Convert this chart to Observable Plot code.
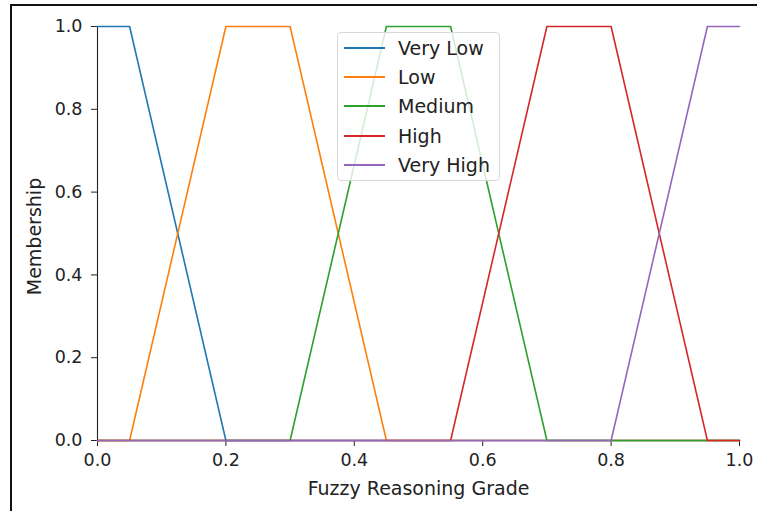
<!DOCTYPE html>
<html><head><meta charset="utf-8">
<script src="https://cdn.jsdelivr.net/npm/d3@7"></script>
<script src="https://cdn.jsdelivr.net/npm/@observablehq/plot@0.6"></script>
<style>
body{margin:0;background:#fff;font-family:"DejaVu Sans",sans-serif;}
#wrap{position:relative;width:757px;height:511px;overflow:hidden;}
#frame{position:absolute;left:10px;top:4px;width:800px;height:600px;border-left:2px solid #111;border-top:2px solid #111;pointer-events:none;}
#legend{position:absolute;left:337px;top:32px;width:163px;height:149px;box-sizing:border-box;border:1px solid #d9d9d9;border-radius:4px;background:rgba(255,255,255,0.8);font-size:19px;color:#222;}
.row{position:absolute;left:6px;height:24px;display:flex;align-items:center;white-space:nowrap;}
.sw{width:41px;height:2px;margin-right:13px;}
</style></head>
<body><div id="wrap"><div id="chart"></div><div id="legend"></div><div id="frame"></div></div>
<script>
const seriesNames = ["Very Low", "Low", "Medium", "High", "Very High"];
const seriesColors = ["#1f77b4", "#ff7f0e", "#2ca02c", "#d62728", "#9467bd"];
const veryLowX = [0, 0.05, 0.2, 1];
const veryLowY = [1, 1, 0, 0];
const lowX = [0, 0.05, 0.2, 0.3, 0.45, 1];
const lowY = [0, 0, 1, 1, 0, 0];
const mediumX = [0, 0.3, 0.45, 0.55, 0.7, 1];
const mediumY = [0, 0, 1, 1, 0, 0];
const highX = [0, 0.55, 0.7, 0.8, 0.95, 1];
const highY = [0, 0, 1, 1, 0, 0];
const veryHighX = [0, 0.8, 0.95, 1];
const veryHighY = [0, 0, 1, 1];
const xTicks = [0, 0.2, 0.4, 0.6, 0.8, 1.0];
const yTicks = [0, 0.2, 0.4, 0.6, 0.8, 1.0];

const allX = [veryLowX, lowX, mediumX, highX, veryHighX];
const allY = [veryLowY, lowY, mediumY, highY, veryHighY];
const data = [];
allX.forEach((xs, i) => xs.forEach((x, j) => data.push({name: seriesNames[i], x, y: allY[i][j]})));

const chart = Plot.plot({
  width: 757, height: 511,
  marginLeft: 97, marginRight: 18, marginTop: 26, marginBottom: 71,
  style: {fontFamily: "DejaVu Sans, sans-serif", fontSize: "17.5px", color: "#222", background: "transparent"},
  x: {domain: [0, 1], ticks: xTicks, tickFormat: d3.format(".1f"), tickSize: 6, tickPadding: 7, label: null},
  y: {domain: [0, 1], ticks: yTicks, tickFormat: d3.format(".1f"), tickSize: 6, tickPadding: 9, label: null},
  color: {domain: seriesNames, range: seriesColors},
  marks: [
    Plot.ruleX([0], {stroke: "#222", strokeWidth: 1.1}),
    Plot.ruleY([0], {stroke: "#222", strokeWidth: 1.1}),
    Plot.line(data, {x: "x", y: "y", z: "name", stroke: "name", strokeWidth: 1.6}),
    Plot.text(["Membership"], {frameAnchor: "left", textAnchor: "middle", lineAnchor: "middle", dx: -63, dy: 3, rotate: -90, fontSize: 19, fill: "#222"}),
    Plot.text(["Fuzzy Reasoning Grade"], {frameAnchor: "bottom", textAnchor: "middle", lineAnchor: "middle", dy: 48, fontSize: 19, fill: "#222"})
  ]
});
document.getElementById("chart").appendChild(chart);

const lg = document.getElementById("legend");
seriesNames.forEach((n, i) => {
  const r = document.createElement("div");
  r.className = "row";
  r.style.top = (3 + i * 29.2) + "px";
  r.innerHTML = `<span class="sw" style="background:${seriesColors[i]}"></span><span>${n}</span>`;
  lg.appendChild(r);
});
</script></body></html>
